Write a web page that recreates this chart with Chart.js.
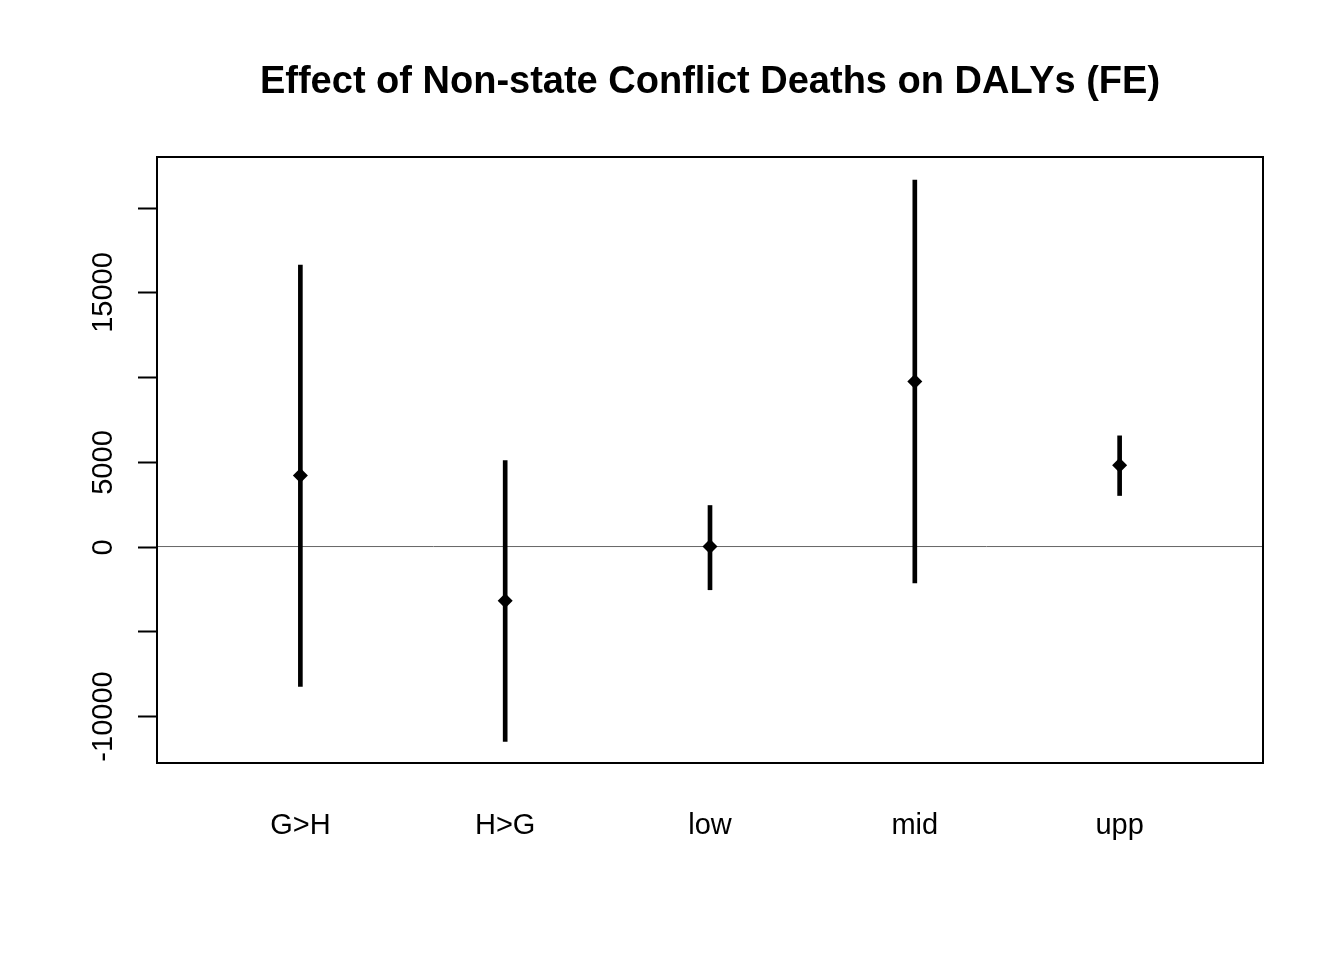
<!DOCTYPE html>
<html lang="en">
<head>
    <meta charset="UTF-8">
    <title>Effect of Non-state Conflict Deaths on DALYs (FE)</title>
    <script src="https://cdn.jsdelivr.net/npm/chart.js"></script>
    <style>
        body { margin: 0; background: #fff; }
        canvas { display: block; }
    </style>
</head>
<body>
    <canvas id="effectChart" width="1344" height="960"></canvas>

    <script>
        // Values
        const categories = ['G>H', 'H>G', 'low', 'mid', 'upp'];
        const estimates  = [4190, -3200, 0, 9730, 4800];
        const lowerBound = [-8250, -11500, -2550, -2150, 3010];
        const upperBound = [16610, 5070, 2420, 21620, 6530];

        // y axis ticks (R drops labels that would overlap)
        const yTicks      = [-10000, -5000, 0, 5000, 10000, 15000, 20000];
        const yTickLabels = ['-10000', '', '0', '5000', '', '15000', ''];

        const titleText = 'Effect of Non-state Conflict Deaths on DALYs (FE)';
        const FONT = '"Liberation Sans", Arial, Helvetica, sans-serif';

        // Box, axis ticks, labels and title in base-R style
        const baseStyle = {
            id: 'baseStyle',
            afterDatasetsDraw(chart) {
                const { ctx, chartArea: a, scales } = chart;
                const x = scales.x, y = scales.y;
                ctx.save();

                // plot box
                ctx.strokeStyle = '#000';
                ctx.lineWidth = 2;
                ctx.strokeRect(a.left, a.top, a.right - a.left, a.bottom - a.top);

                // y ticks and rotated labels
                ctx.fillStyle = '#000';
                ctx.font = '29px ' + FONT;
                ctx.textAlign = 'center';
                ctx.textBaseline = 'alphabetic';
                yTicks.forEach((v, i) => {
                    const py = Math.round(y.getPixelForValue(v)) + 0.5;
                    ctx.beginPath();
                    ctx.moveTo(a.left - 19, py);
                    ctx.lineTo(a.left, py);
                    ctx.stroke();
                    if (yTickLabels[i]) {
                        ctx.save();
                        ctx.translate(a.left - 45, py);
                        ctx.rotate(-Math.PI / 2);
                        ctx.fillText(yTickLabels[i], 0, 0);
                        ctx.restore();
                    }
                });

                // category labels under the box
                categories.forEach((c, i) => {
                    ctx.fillText(c, x.getPixelForValue(i + 1), a.bottom + 71);
                });

                // title
                ctx.font = 'bold 38px ' + FONT;
                ctx.fillText(titleText, (a.left + a.right) / 2, 93);
                ctx.restore();
            }
        };

        const ctx = document.getElementById('effectChart').getContext('2d');
        const effectChart = new Chart(ctx, {
            data: {
                datasets: [
                    {
                        // reference line at zero
                        type: 'line',
                        data: [{ x: 0.3, y: 0 }, { x: 5.7, y: 0 }],
                        borderColor: '#666',
                        borderWidth: 1,
                        pointRadius: 0,
                        order: 3
                    },
                    {
                        // confidence intervals
                        type: 'bar',
                        data: categories.map((c, i) => ({ x: i + 1, y: [lowerBound[i], upperBound[i]] })),
                        backgroundColor: '#000',
                        barThickness: 4,
                        order: 2
                    },
                    {
                        // point estimates
                        type: 'scatter',
                        data: categories.map((c, i) => ({ x: i + 1, y: estimates[i] })),
                        pointStyle: 'rectRot',
                        pointRadius: 7.5,
                        backgroundColor: '#000',
                        borderColor: '#000',
                        borderWidth: 0,
                        order: 1
                    }
                ]
            },
            options: {
                responsive: false,
                animation: false,
                layout: { padding: { left: 157, right: 81, top: 157, bottom: 197 } },
                scales: {
                    x: { type: 'linear', min: 0.3, max: 5.7, offset: false, display: false },
                    y: { type: 'linear', min: -12770, max: 22980, display: false }
                },
                plugins: {
                    legend: { display: false },
                    tooltip: { enabled: false },
                    title: { display: false }
                }
            },
            plugins: [baseStyle]
        });
    </script>
</body>
</html>
